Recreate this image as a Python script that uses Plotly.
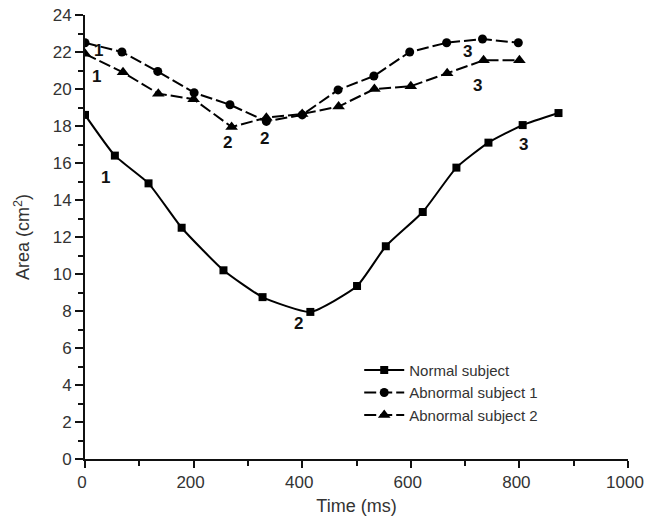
import plotly.graph_objects as go

# Normal subject
normal_t = [0, 55, 117, 178, 255, 327, 415, 501, 554, 622, 684, 743, 806, 872]
normal_a = [18.6, 16.4, 14.9, 12.5, 10.2, 8.75, 7.95, 9.35, 11.5, 13.35, 15.75, 17.1, 18.05, 18.7]

# Abnormal subject 1
ab1_t = [0, 68, 134, 201, 267, 334, 400, 466, 532, 598, 666, 732, 798]
ab1_a = [22.5, 22.0, 20.95, 19.8, 19.15, 18.25, 18.6, 19.95, 20.7, 22.0, 22.5, 22.7, 22.5]

# Abnormal subject 2
ab2_t = [0, 70, 135, 200, 270, 334, 400, 467, 533, 600, 667, 734, 800]
ab2_a = [21.9, 20.9, 19.75, 19.45, 17.95, 18.45, 18.65, 19.05, 20.0, 20.15, 20.85, 21.55, 21.55]

# phase labels (text, x, y)
label_text = ["1", "2", "3", "1", "2", "3", "1", "2", "3"]
label_x = [37, 393, 807, 25, 330, 705, 22, 262, 723]
label_y = [15.2, 7.3, 17.0, 22.1, 17.3, 22.05, 20.7, 17.1, 20.2]

FONT = "Liberation Sans, Arial, sans-serif"

fig = go.Figure()
fig.add_trace(go.Scatter(
    x=normal_t, y=normal_a, name="Normal subject", mode="lines+markers",
    line=dict(color="black", width=2, shape="spline", smoothing=0.5),
    marker=dict(symbol="square", size=8, color="black")))
fig.add_trace(go.Scatter(
    x=ab1_t, y=ab1_a, name="Abnormal subject 1", mode="lines+markers",
    line=dict(color="black", width=2, dash="12px,4px"),
    marker=dict(symbol="circle", size=9, color="black")))
fig.add_trace(go.Scatter(
    x=ab2_t, y=ab2_a, name="Abnormal subject 2", mode="lines+markers",
    line=dict(color="black", width=2, dash="12px,4px"),
    marker=dict(symbol="triangle-up", size=11, color="black")))

for t, x, y in zip(label_text, label_x, label_y):
    fig.add_annotation(x=x, y=y, text="<b>" + t + "</b>", showarrow=False,
                       font=dict(family=FONT, size=17, color="#111"))

axis_common = dict(
    showgrid=False, zeroline=False, showline=True, linecolor="#111", linewidth=2,
    ticks="outside", tickcolor="#111", tickwidth=2,
    tickfont=dict(family=FONT, size=17, color="#333"),
    mirror=False, automargin=False, ticklabeloverflow="allow",
)

fig.update_xaxes(
    range=[0, 1000], tickmode="linear", tick0=0, dtick=200, ticklen=7, ticklabelshift=-3,
    minor=dict(ticks="outside", dtick=100, tick0=0, ticklen=5, tickcolor="#111", tickwidth=2),
    title=dict(text="Time (ms)", font=dict(family=FONT, size=18, color="#333"), standoff=8),
    **axis_common)
fig.update_yaxes(
    range=[0, 24], tickmode="linear", tick0=0, dtick=2, ticklen=8,
    minor=dict(ticks="outside", dtick=1, ticklen=5, tickcolor="#111", tickwidth=2),
    title=dict(text="Area (cm<sup>2</sup>)", font=dict(family=FONT, size=18, color="#333"), standoff=18),
    **axis_common)

fig.update_layout(
    width=646, height=523,
    margin=dict(l=85, r=18, t=15, b=64),
    plot_bgcolor="white", paper_bgcolor="white",
    showlegend=True,
    legend=dict(x=0.505, y=0.237, xanchor="left", yanchor="top",
                bgcolor="rgba(0,0,0,0)", font=dict(family=FONT, size=15, color="#333"),
                tracegroupgap=0, itemwidth=40),
)

# remove the default 8px page margin so the figure sits at the window's corner
fig.write_html("out.html", config={"displayModeBar": False},
               post_script="document.body.style.margin='0';document.body.style.overflow='hidden';")
